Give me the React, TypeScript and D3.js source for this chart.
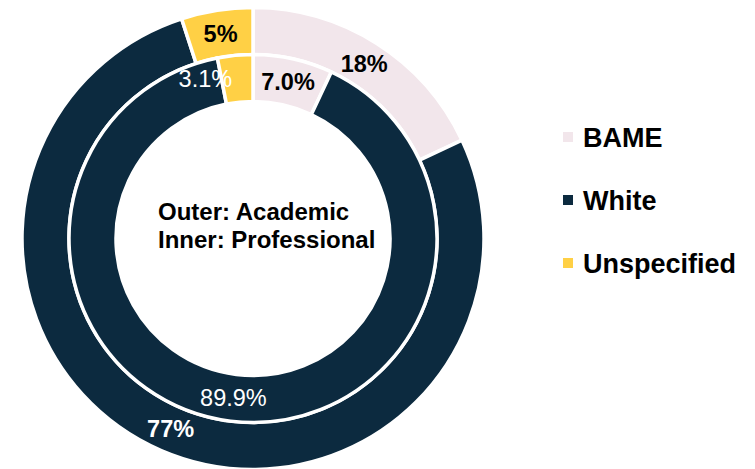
import React from 'react'
import * as d3 from 'd3'

// ethnicity split, outer ring = academic staff, inner ring = professional staff
const categories = ['BAME', 'White', 'Unspecified']
const academicValues = [18, 77, 5]
const professionalValues = [7.0, 89.9, 3.1]
const academicLabels = ['18%', '77%', '5%']
const professionalLabels = ['7.0%', '89.9%', '3.1%']
const colours = ['#F2E6EB', '#0C2A3F', '#FFD045']

const W = 755
const H = 469
const cx = 253
const cy = 238.5
const font = '"Liberation Sans", Arial, sans-serif'

export default function App() {
  const colour = d3.scaleOrdinal<string, string>().domain(categories).range(colours)
  const pie = d3.pie<number>().sort(null).value((d) => d)

  const outerArc = d3.arc<d3.PieArcDatum<number>>().innerRadius(184).outerRadius(231)
  const innerArc = d3.arc<d3.PieArcDatum<number>>().innerRadius(137).outerRadius(184)

  const outer = pie(academicValues)
  const inner = pie(professionalValues)

  // outer labels: black on light slices, white on navy
  const outerFill = (i: number) => (categories[i] === 'White' ? '#ffffff' : '#000000')
  // inner labels: only BAME is dark, the others are white
  const innerFill = (i: number) => (categories[i] === 'BAME' ? '#000000' : '#ffffff')
  // the small inner slice label is nudged left so it doesn't sit on the 5% wedge
  const innerNudge = [0, 0, -32]

  const legendY = d3.scalePoint<string>().domain(categories).range([137, 263])

  return (
    <svg width={W} height={H} style={{ position: 'absolute', left: 0, top: 0, background: '#fff' }}>
      <g transform={`translate(${cx},${cy})`}>
        {outer.map((d, i) => (
          <path key={'o' + i} d={outerArc(d) || ''} fill={colour(categories[i])} stroke="#fff" strokeWidth={3.5} />
        ))}
        {inner.map((d, i) => (
          <path key={'i' + i} d={innerArc(d) || ''} fill={colour(categories[i])} stroke="#fff" strokeWidth={3.5} />
        ))}
        {outer.map((d, i) => {
          const [x, y] = outerArc.centroid(d)
          return (
            <text key={'ol' + i} x={x} y={y} dy="0.36em" textAnchor="middle"
              fontFamily={font} fontSize={23.5} fontWeight="bold" fill={outerFill(i)}>
              {academicLabels[i]}
            </text>
          )
        })}
        {inner.map((d, i) => {
          const [x, y] = innerArc.centroid(d)
          return (
            <text key={'il' + i} x={x + innerNudge[i]} y={y} dy="0.36em" textAnchor="middle"
              fontFamily={font} fontSize={23.5}
              fontWeight={categories[i] === 'BAME' ? 'bold' : 'normal'}
              fill={innerFill(i)}>
              {professionalLabels[i]}
            </text>
          )
        })}
      </g>
      <text x={158} y={220} fontFamily={font} fontSize={24} fontWeight="bold" fill="#000">Outer: Academic</text>
      <text x={158} y={248} fontFamily={font} fontSize={24} fontWeight="bold" fill="#000">Inner: Professional</text>
      {categories.map((c) => (
        <g key={c} transform={`translate(563,${legendY(c)})`}>
          <rect x={0} y={-5} width={10} height={10} fill={colour(c)} />
          <text x={20} y={0} dy="0.36em" fontFamily={font} fontSize={27} fontWeight="bold" fill="#000">{c}</text>
        </g>
      ))}
    </svg>
  )
}
